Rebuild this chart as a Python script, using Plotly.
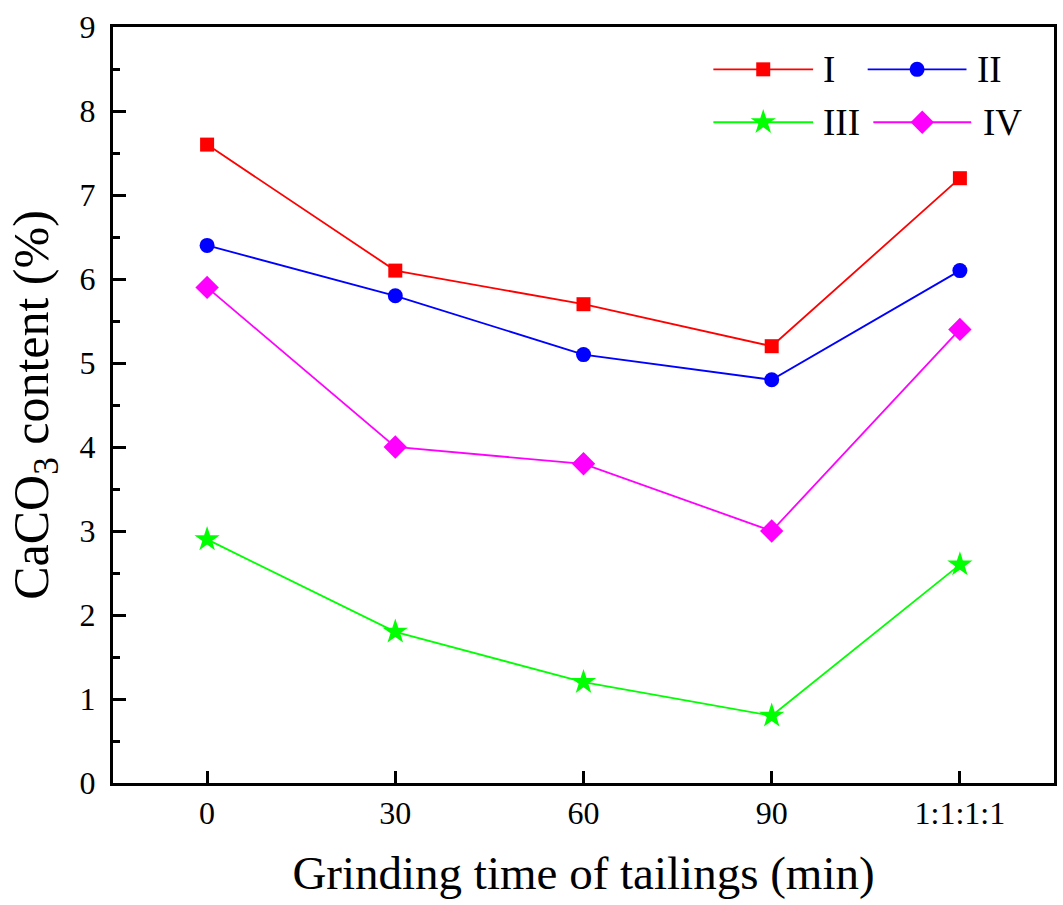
import plotly.graph_objects as go

categories = ["0", "30", "60", "90", "1:1:1:1"]
series_I = [7.6, 6.1, 5.7, 5.2, 7.2]
series_II = [6.4, 5.8, 5.1, 4.8, 6.1]
series_III = [2.9, 1.8, 1.2, 0.8, 2.6]
series_IV = [5.9, 4.0, 3.8, 3.0, 5.4]
names = ["I", "II", "III", "IV"]
y_ticks = [0, 1, 2, 3, 4, 5, 6, 7, 8, 9]

FONT = "Liberation Serif, Times New Roman, serif"
styles = [
    dict(color="#FF0000", symbol="square", size=14),
    dict(color="#0000FF", symbol="circle", size=15),
    dict(color="#00FF00", symbol="star", size=19),
    dict(color="#FF00FF", symbol="diamond", size=18),
]
# custom 2x2 legend layout (fractions of the plot area)
legend_pos = [
    dict(x0=0.638, x1=0.744, y=0.944, tx=0.752),
    dict(x0=0.802, x1=0.907, y=0.944, tx=0.916),
    dict(x0=0.638, x1=0.744, y=0.874, tx=0.752),
    dict(x0=0.808, x1=0.912, y=0.874, tx=0.922),
]

fig = go.Figure()
xs = list(range(len(categories)))
for name, ys, st in zip(names, [series_I, series_II, series_III, series_IV], styles):
    fig.add_trace(go.Scatter(
        x=xs, y=ys, name=name, mode="lines+markers",
        line=dict(color=st["color"], width=1.8),
        marker=dict(symbol=st["symbol"], size=st["size"], color=st["color"],
                    line=dict(width=0)),
        showlegend=False,
    ))

for name, st, lp in zip(names, styles, legend_pos):
    fig.add_shape(type="line", xref="paper", yref="paper",
                  x0=lp["x0"], x1=lp["x1"], y0=lp["y"], y1=lp["y"],
                  line=dict(color=st["color"], width=1.8))
    fig.add_trace(go.Scatter(
        x=[(lp["x0"] + lp["x1"]) / 2], y=[lp["y"]], xaxis="x2", yaxis="y2",
        mode="markers", showlegend=False, hoverinfo="skip",
        marker=dict(symbol=st["symbol"], size=st["size"], color=st["color"],
                    line=dict(width=0)),
    ))
    fig.add_annotation(x=lp["tx"], y=lp["y"], xref="paper", yref="paper",
                       text=name, showarrow=False, xanchor="left", yanchor="middle",
                       font=dict(family=FONT, size=37, color="black"))

fig.update_layout(
    width=1063, height=905,
    margin=dict(l=113, r=6, t=27, b=122),
    paper_bgcolor="white", plot_bgcolor="white",
    font=dict(family=FONT, color="black", size=31),
    showlegend=False,
    xaxis=dict(
        range=[-0.5, 4.5], tickmode="array", tickvals=xs, ticktext=categories,
        showline=True, linewidth=3, linecolor="black", mirror=True,
        ticks="inside", ticklen=12, tickwidth=3, tickcolor="black",
        showgrid=False, zeroline=False,
        tickfont=dict(family=FONT, size=32),
        title=dict(text="Grinding time of tailings (min)",
                   font=dict(family=FONT, size=47), standoff=26),
    ),
    yaxis=dict(
        range=[0, 9], tickmode="array", tickvals=y_ticks,
        showline=True, linewidth=3, linecolor="black", mirror=True,
        ticks="inside", ticklen=13, tickwidth=3, tickcolor="black",
        ticklabelstandoff=8,
        minor=dict(ticks="inside", ticklen=7, tickwidth=3, tickcolor="black", dtick=0.5),
        showgrid=False, zeroline=False,
        tickfont=dict(family=FONT, size=32),
        title=dict(text="CaCO<sub>3</sub> content (%)",
                   font=dict(family=FONT, size=50), standoff=16),
    ),
    xaxis2=dict(overlaying="x", range=[0, 1], visible=False, fixedrange=True),
    yaxis2=dict(overlaying="y", range=[0, 1], visible=False, fixedrange=True),
)

fig.write_html("out.html")
